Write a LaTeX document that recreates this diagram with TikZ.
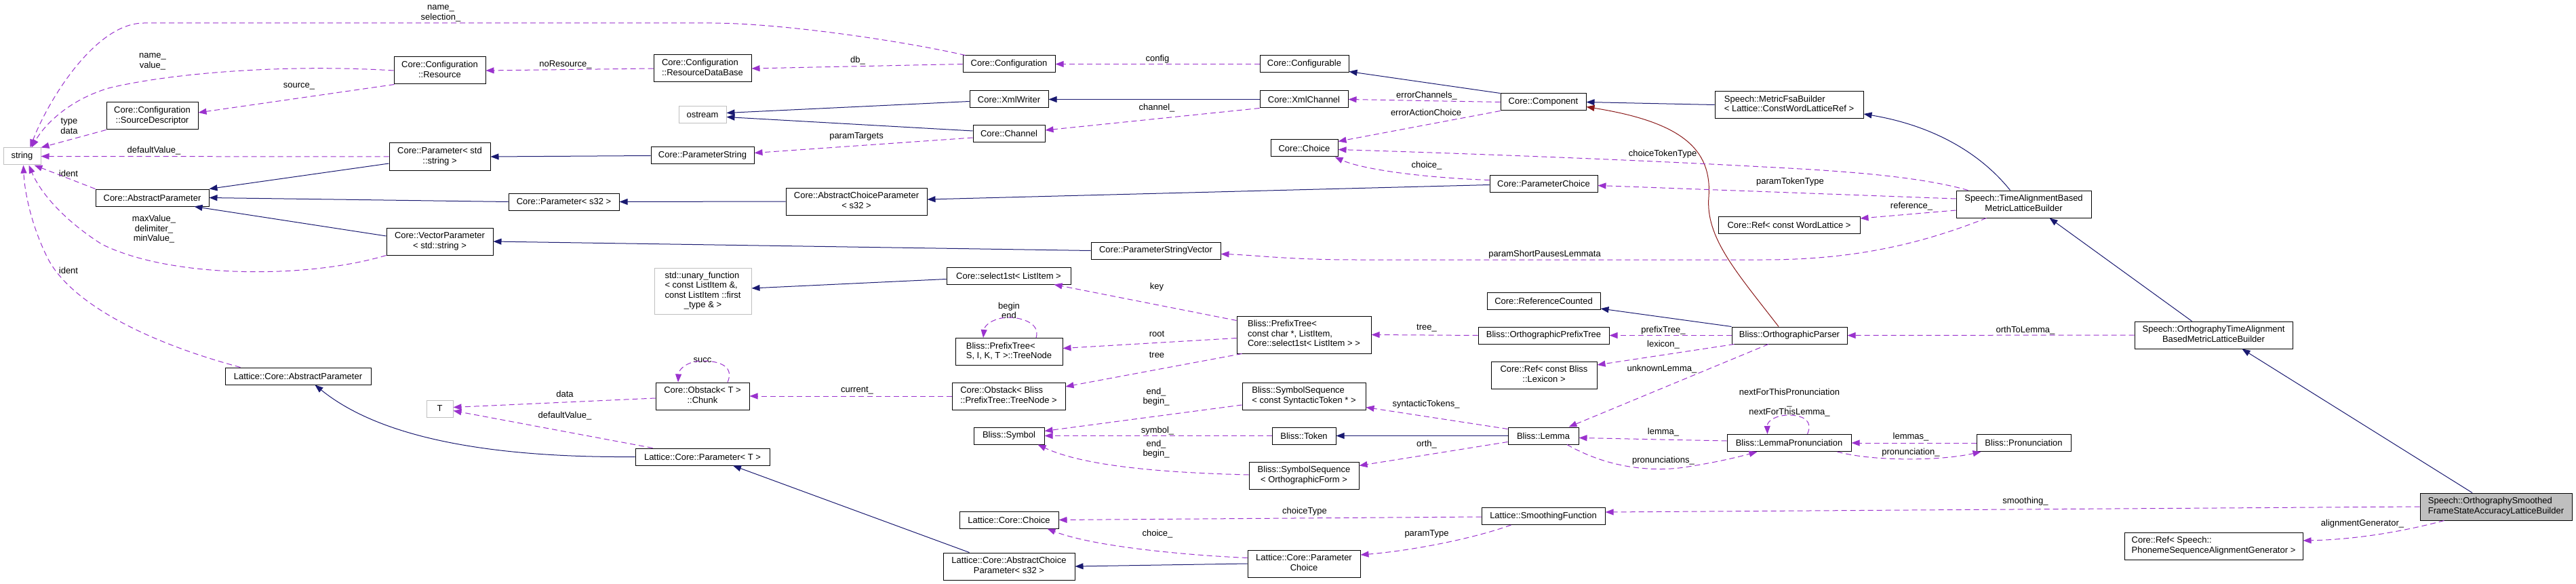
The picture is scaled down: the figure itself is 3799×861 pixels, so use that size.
\documentclass[tikz,border=0pt]{standalone}
\usepackage{fontspec}
\setmainfont{Liberation Sans}
\usetikzlibrary{arrows.meta,calc}
\definecolor{inhcol}{HTML}{191970}
\definecolor{usecol}{HTML}{9A32CD}
\definecolor{redcol}{HTML}{8B1A1A}
\definecolor{greyb}{HTML}{BFBFBF}
\newcommand{\dfont}{\fontsize{13}{14.5}\selectfont}
\newcommand{\ml}[2]{\begin{tabular}{@{}l@{}}#1\\\multicolumn{1}{@{}c@{}}{#2}\end{tabular}}
\tikzset{
  box/.style={draw=black, line width=1pt, fill=white, inner sep=0pt, font=\dfont, minimum height=25pt},
  gbox/.style={box, draw=greyb},
  lbl/.style={font=\dfont, align=center, inner sep=0pt},
  inh/.style={inhcol, line width=1pt, -{Triangle[length=12pt,width=9pt]}},
  use/.style={usecol, line width=1pt, dash pattern=on 8pt off 5pt, -{Triangle[length=12pt,width=9pt]}},
  redl/.style={redcol, line width=1pt, -{Triangle[length=12pt,width=9pt]}}
}
\begin{document}
\begin{tikzpicture}[x=1pt,y=-1pt]
\useasboundingbox (0,0) rectangle (3799,861);
% ---------- nodes ----------
\node[gbox, minimum width=55pt] (str) at (32.5,230.5) {string};
\node[box, minimum width=135pt, minimum height=40pt] (srcdesc) at (224.5,171) {\ml{Core::Configuration}{::SourceDescriptor}};
\node[box, minimum width=167pt] (absparam) at (224.5,291.5) {Core::AbstractParameter};
\node[box, minimum width=135pt, minimum height=40pt] (resource) at (648.5,104) {\ml{Core::Configuration}{::Resource}};
\node[box, minimum width=149pt, minimum height=40pt] (paramstd) at (648.5,231) {\ml{Core::Parameter< std}{::string >}};
\node[box, minimum width=157pt, minimum height=40pt] (vecparam) at (648.5,356) {\ml{Core::VectorParameter}{< std::string >}};
\node[box, minimum width=215pt] (latabs) at (439.5,554.5) {Lattice::Core::AbstractParameter};
\node[gbox, minimum width=39pt] (T) at (648.5,602.5) {T};
\node[box, minimum width=144pt, minimum height=40pt] (rdb) at (1036,101) {\ml{Core::Configuration}{::ResourceDataBase}};
\node[gbox, minimum width=70pt] (ostream) at (1036,169.5) {ostream};
\node[box, minimum width=152pt] (paramstring) at (1036,229.5) {Core::ParameterString};
\node[box, minimum width=163pt] (params32) at (831.5,297.5) {Core::Parameter< s32 >};
\node[gbox, minimum width=143pt, minimum height=68pt] (unary) at (1036.5,429) {\ml{std::unary\_function\\< const ListItem \&,\\const ListItem ::first}{\_type \& >}};
\node[box, minimum width=138pt, minimum height=40pt] (chunk) at (1036,584) {\ml{Core::Obstack< T >}{::Chunk}};
\node[box, minimum width=198pt] (latparamT) at (1036,673.5) {Lattice::Core::Parameter< T >};
\node[box, minimum width=208pt, minimum height=40pt] (abschoice) at (1263,297) {\ml{Core::AbstractChoiceParameter}{< s32 >}};
\node[box, minimum width=136pt] (config) at (1488,94.5) {Core::Configuration};
\node[box, minimum width=116pt] (xmlwriter) at (1488,146.5) {Core::XmlWriter};
\node[box, minimum width=106pt] (channel) at (1488,197) {Core::Channel};
\node[box, minimum width=183pt] (select1st) at (1487.5,406.5) {Core::select1st< ListItem >};
\node[box, minimum width=158pt, minimum height=40pt] (treenode) at (1488,518.5) {\ml{Bliss::PrefixTree<}{S, I, K, T >::TreeNode}};
\node[box, minimum width=167pt, minimum height=40pt] (obstackb) at (1487.5,584) {\ml{Core::Obstack< Bliss}{::PrefixTree::TreeNode >}};
\node[box, minimum width=104pt] (symbol) at (1488,642.5) {Bliss::Symbol};
\node[box, minimum width=146pt] (latchoice) at (1488,766.5) {Lattice::Core::Choice};
\node[box, minimum width=194pt, minimum height=40pt] (latabschoice) at (1488,835) {\ml{Lattice::Core::AbstractChoice}{Parameter< s32 >}};
\node[box, minimum width=131pt] (configurable) at (1923.5,94.5) {Core::Configurable};
\node[box, minimum width=130pt] (xmlchannel) at (1923,146.5) {Core::XmlChannel};
\node[box, minimum width=99pt] (choice) at (1923.5,218.5) {Core::Choice};
\node[box, minimum width=191pt] (psv) at (1704.5,369.5) {Core::ParameterStringVector};
\node[box, minimum width=198pt, minimum height=55pt] (prefixtree) at (1923,493.5) {\ml{Bliss::PrefixTree<\\const char *, ListItem,}{Core::select1st< ListItem > >}};
\node[box, minimum width=182pt, minimum height=40pt] (symseqsyn) at (1923,584) {\ml{Bliss::SymbolSequence}{< const SyntacticToken * >}};
\node[box, minimum width=94pt] (token) at (1923,642.5) {Bliss::Token};
\node[box, minimum width=162pt, minimum height=40pt] (symseqorth) at (1923,701) {\ml{Bliss::SymbolSequence}{< OrthographicForm >}};
\node[box, minimum width=166pt, minimum height=40pt] (latparamchoice) at (1923,831) {\ml{Lattice::Core::Parameter}{Choice}};
\node[box, minimum width=126pt] (component) at (2276,150.5) {Core::Component};
\node[box, minimum width=159pt] (paramchoice) at (2276.5,270.5) {Core::ParameterChoice};
\node[box, minimum width=167pt] (refcounted) at (2276.5,444) {Core::ReferenceCounted};
\node[box, minimum width=193pt] (orthprefix) at (2276.5,494.5) {Bliss::OrthographicPrefixTree};
\node[box, minimum width=156pt, minimum height=40pt] (reflex) at (2277,553) {\ml{Core::Ref< const Bliss}{::Lexicon >}};
\node[box, minimum width=104pt] (lemma) at (2276,642.5) {Bliss::Lemma};
\node[box, minimum width=182pt] (smoothing) at (2276,761) {Lattice::SmoothingFunction};
\node[box, minimum width=219pt, minimum height=40pt] (metricfsa) at (2638.5,154.5) {\ml{Speech::MetricFsaBuilder}{< Lattice::ConstWordLatticeRef >}};
\node[box, minimum width=209pt] (refwl) at (2638.5,332) {Core::Ref< const WordLattice >};
\node[box, minimum width=170pt] (orthparser) at (2639,494.5) {Bliss::OrthographicParser};
\node[box, minimum width=183pt] (lemmapron) at (2638.5,653) {Bliss::LemmaPronunciation};
\node[box, minimum width=199pt, minimum height=40pt] (timealign) at (2984.5,301) {\ml{Speech::TimeAlignmentBased}{MetricLatticeBuilder}};
\node[box, minimum width=139pt] (pron) at (2984.5,653) {Bliss::Pronunciation};
\node[box, minimum width=233pt, minimum height=40pt] (orthtime) at (3264.5,494) {\ml{Speech::OrthographyTimeAlignment}{BasedMetricLatticeBuilder}};
\node[box, fill=greyb, minimum width=224pt, minimum height=40pt] (smoothed) at (3681,747) {\ml{Speech::OrthographySmoothed}{FrameStateAccuracyLatticeBuilder}};
\node[box, minimum width=263pt, minimum height=40pt] (refpsag) at (3264.5,805) {\ml{Core::Ref< Speech::}{PhonemeSequenceAlignmentGenerator >}};
% ---------- labels ----------
\node[lbl] (l1) at (650,20) {name\_\\selection\_};
\node[lbl] (l2) at (225,91) {name\_\\value\_};
\node[lbl] (l3) at (441,127) {source\_};
\node[lbl] (l4) at (102,186) {type\\data};
\node[lbl] (l5) at (227,222) {defaultValue\_};
\node[lbl] (l6) at (101,256) {ident};
\node[lbl] (l7) at (227,338) {maxValue\_\\delimiter\_\\minValue\_};
\node[lbl] (l8) at (101,399) {ident};
\node[lbl] (l9) at (834,95) {noResource\_};
\node[lbl] (l10) at (1265,89) {db\_};
\node[lbl] (l11) at (1707,87) {config};
\node[lbl] (l12) at (1706,159) {channel\_};
\node[lbl] (l13) at (1263,201) {paramTargets};
\node[lbl] (l14) at (1706,423) {key};
\node[lbl] (l15) at (1706,492) {root};
\node[lbl] (l16) at (1706,523) {tree};
\node[lbl] (l17) at (1264,576) {current\_};
\node[lbl] (l18) at (1036,531) {succ};
\node[lbl] (l19) at (833,581) {data};
\node[lbl] (l20) at (833,613) {defaultValue\_};
\node[lbl] (l21) at (1488,458) {begin\\end};
\node[lbl] (l22) at (1705,585) {end\_\\begin\_};
\node[lbl] (l23) at (1707,635) {symbol\_};
\node[lbl] (l24) at (1705,662) {end\_\\begin\_};
\node[lbl] (l25) at (1707,787) {choice\_};
\node[lbl] (l26) at (1924,754) {choiceType};
\node[lbl] (l27) at (2104,787) {paramType};
\node[lbl] (l28) at (2104,141) {errorChannels\_};
\node[lbl] (l29) at (2103,166) {errorActionChoice};
\node[lbl] (l30) at (2452,227) {choiceTokenType};
\node[lbl] (l31) at (2104,244) {choice\_};
\node[lbl] (l32) at (2640,268) {paramTokenType};
\node[lbl] (l33) at (2819,304) {reference\_};
\node[lbl] (l34) at (2278,375) {paramShortPausesLemmata};
\node[lbl] (l35) at (2987,487) {orthToLemma\_};
\node[lbl] (l36) at (2453,487) {prefixTree\_};
\node[lbl] (l37) at (2453,508) {lexicon\_};
\node[lbl] (l38) at (2451,544) {unknownLemma\_};
\node[lbl] (l39) at (2103,596) {syntacticTokens\_};
\node[lbl] (l40) at (2104,655) {orth\_};
\node[lbl] (l41) at (2104,484) {tree\_};
\node[lbl] (l42) at (2453,637) {lemma\_};
\node[lbl] (l43) at (2453,679) {pronunciations\_};
\node[lbl] (l44) at (2639,594) {nextForThisPronunciation\\\_\\nextForThisLemma\_};
\node[lbl] (l45) at (2818,644) {lemmas\_};
\node[lbl] (l46) at (2818,667) {pronunciation\_};
\node[lbl] (l47) at (2987,739) {smoothing\_};
\node[lbl] (l48) at (3484,772) {alignmentGenerator\_};
% ---------- inheritance ----------
\draw[inh] ($(paramstd.west)+(0,10)$) -- (absparam.north east);
\draw[inh] (params32.west) -- (absparam.east);
\draw[inh] ($(vecparam.west)+(0,-8)$) -- ($(absparam.south east)+(-22,0)$);
\draw[inh] (paramstring.west) -- (paramstd.east);
\draw[inh] (abschoice.west) -- (params32.east);
\draw[inh] (psv.west) -- (vecparam.east);
\draw[inh] ($(select1st.west)+(0,5)$) -- ($(unary.east)+(0,-4)$);
\draw[inh] (latparamT.west) .. controls (720,675) and (560,645) .. ($(latabs.south)+(25,0)$);
\draw[inh] ($(latabschoice.north west)+(39,0)$) -- ($(latparamT.south)+(45,0)$);
\draw[inh] (latparamchoice.west) -- (latabschoice.east);
\draw[inh] (component.north west) -- ($(configurable.south east)+(0,-2)$);
\draw[inh] (xmlchannel.west) -- (xmlwriter.east);
\draw[inh] ($(xmlwriter.west)+(0,3)$) -- ($(ostream.east)+(0,-3)$);
\draw[inh] ($(channel.west)+(0,-4)$) -- ($(ostream.east)+(0,3)$);
\draw[inh] ($(paramchoice.west)+(0,2)$) -- ($(abschoice.east)+(0,-3)$);
\draw[inh] (metricfsa.west) -- (component.east);
\draw[inh] ($(timealign.north)+(-20,0)$) .. controls (2920,225) and (2850,185) .. ($(metricfsa.south east)+(0,-7)$);
\draw[inh] ($(orthtime.north)+(-32,0)$) -- ($(timealign.south)+(38,0)$);
\draw[inh] ($(smoothed.north)+(-35,0)$) -- ($(orthtime.south)+(42,0)$);
\draw[inh] (lemma.west) -- (token.east);
\draw[inh] (orthparser.north west) -- ($(refcounted.south east)+(0,-2)$);
\draw[redl] ($(orthparser.north)+(-16,0)$) .. controls (2560,400) and (2515,350) .. (2520,290) .. controls (2525,220) and (2480,180) .. ($(component.east)+(0,7)$);
% ---------- usage ----------
\draw[use] ($(config.north west)+(4,0)$) .. controls (1330,60) and (1150,34) .. (1050,34) -- (212,34) .. controls (140,34) and (70,150) .. ($(str.north)+(12,0)$);
\draw[use] (resource.west) .. controls (420,94) and (250,108) .. (160,130) .. controls (100,148) and (65,185) .. ($(str.north)+(14,0)$);
\draw[use] ($(resource.south west)+(1,0)$) -- ($(srcdesc.east)+(0,-5)$);
\draw[use] (srcdesc.south west) -- (str.north east);
\draw[use] (paramstd.west) -- (str.east);
\draw[use] (absparam.north west) -- ($(str.south east)+(-10,0)$);
\draw[use] (vecparam.south west) .. controls (450,412) and (250,410) .. (150,360) .. controls (95,325) and (60,285) .. ($(str.south)+(10,0)$);
\draw[use] ($(latabs.north west)+(23,0)$) .. controls (200,500) and (100,440) .. (70,380) .. controls (45,330) and (36,280) .. ($(str.south)+(2,0)$);
\draw[use] (rdb.west) -- (resource.east);
\draw[use] (config.west) -- (rdb.east);
\draw[use] (configurable.west) -- (config.east);
\draw[use] (xmlchannel.south west) -- ($(channel.east)+(0,-5)$);
\draw[use] ($(channel.west)+(0,6)$) -- ($(paramstring.east)+(0,-4)$);
\draw[use] ($(prefixtree.north west)+(0,7)$) -- ($(select1st.south east)+(-25,0)$);
\draw[use] ($(prefixtree.west)+(0,5)$) -- ($(treenode.east)+(0,-5)$);
\draw[use] ($(prefixtree.south west)+(8,0)$) -- ($(obstackb.east)+(0,-14)$);
\draw[use] (obstackb.west) -- (chunk.east);
\draw[use] ($(chunk.north)+(37,0)$) .. controls (1085,536) and (1052,532) .. (1036,532) .. controls (1016,532) and (1001,543) .. ($(chunk.north)+(-36,0)$);
\draw[use] ($(chunk.west)+(0,3)$) -- ($(T.east)+(0,-2)$);
\draw[use] ($(latparamT.north west)+(26,0)$) -- ($(T.east)+(0,3)$);
\draw[use] ($(treenode.north)+(40,0)$) .. controls (1535,476) and (1505,468) .. (1488,468) .. controls (1468,468) and (1452,478) .. ($(treenode.north)+(-38,0)$);
\draw[use] ($(symseqsyn.west)+(0,13)$) -- ($(symbol.east)+(0,-7)$);
\draw[use] (token.west) -- (symbol.east);
\draw[use] ($(symseqorth.west)+(0,-1)$) .. controls (1720,697) and (1600,688) .. ($(symbol.south east)+(-10,0)$);
\draw[use] ($(latparamchoice.north west)+(0,12)$) .. controls (1740,818) and (1610,805) .. ($(latchoice.south east)+(-17,0)$);
\draw[use] ($(smoothing.west)+(0,1)$) -- (latchoice.east);
\draw[use] ($(smoothing.south west)+(44,0)$) .. controls (2170,795) and (2080,812) .. ($(latparamchoice.east)+(0,-13)$);
\draw[use] (component.west) -- (xmlchannel.east);
\draw[use] (component.south west) -- ($(choice.east)+(0,-10)$);
\draw[use] ($(timealign.north west)+(18,0)$) .. controls (2830,260) and (2720,252) .. (2600,246) .. controls (2400,235) and (2150,226) .. ($(choice.east)+(0,2)$);
\draw[use] ($(paramchoice.north west)+(0,8)$) .. controls (2100,262) and (2010,250) .. ($(choice.south east)+(-5,0)$);
\draw[use] ($(timealign.west)+(0,-8)$) -- ($(paramchoice.east)+(0,3)$);
\draw[use] ($(timealign.west)+(0,9)$) -- ($(refwl.east)+(0,-10)$);
\draw[use] ($(timealign.south west)+(45,0)$) .. controls (2820,365) and (2720,383) .. (2600,383) -- (2000,383) .. controls (1900,383) and (1850,376) .. ($(psv.east)+(0,5)$);
\draw[use] (orthtime.west) -- (orthparser.east);
\draw[use] (orthparser.west) -- (orthprefix.east);
\draw[use] ($(orthparser.south west)+(4,0)$) -- ($(reflex.east)+(0,-15)$);
\draw[use] ($(orthparser.south)+(-31,0)$) -- ($(lemma.north east)+(-15,0)$);
\draw[use] ($(lemma.north west)+(0,3)$) -- ($(symseqsyn.south east)+(0,-4)$);
\draw[use] ($(lemma.west)+(0,9)$) -- ($(symseqorth.north east)+(0,6)$);
\draw[use] (orthprefix.west) -- (prefixtree.east);
\draw[use] ($(lemmapron.west)+(0,-3)$) -- ($(lemma.east)+(0,3)$);
\draw[use] ($(lemma.south)+(35,0)$) .. controls (2380,695) and (2450,695) .. (2490,688) .. controls (2540,680) and (2570,672) .. ($(lemmapron.south west)+(45,0)$);
\draw[use] ($(lemmapron.north)+(27,0)$) .. controls (2675,618) and (2655,612) .. (2638,612) .. controls (2620,612) and (2606,620) .. ($(lemmapron.north)+(-32,0)$);
\draw[use] (pron.west) -- (lemmapron.east);
\draw[use] ($(lemmapron.south east)+(-21,0)$) .. controls (2760,680) and (2860,680) .. ($(pron.south west)+(7,0)$);
\draw[use] (smoothed.west) -- ($(smoothing.east)+(0,-6)$);
\draw[use] ($(smoothed.south west)+(36,0)$) .. controls (3520,790) and (3450,796) .. ($(refpsag.east)+(0,-8)$);
\end{tikzpicture}
\end{document}
